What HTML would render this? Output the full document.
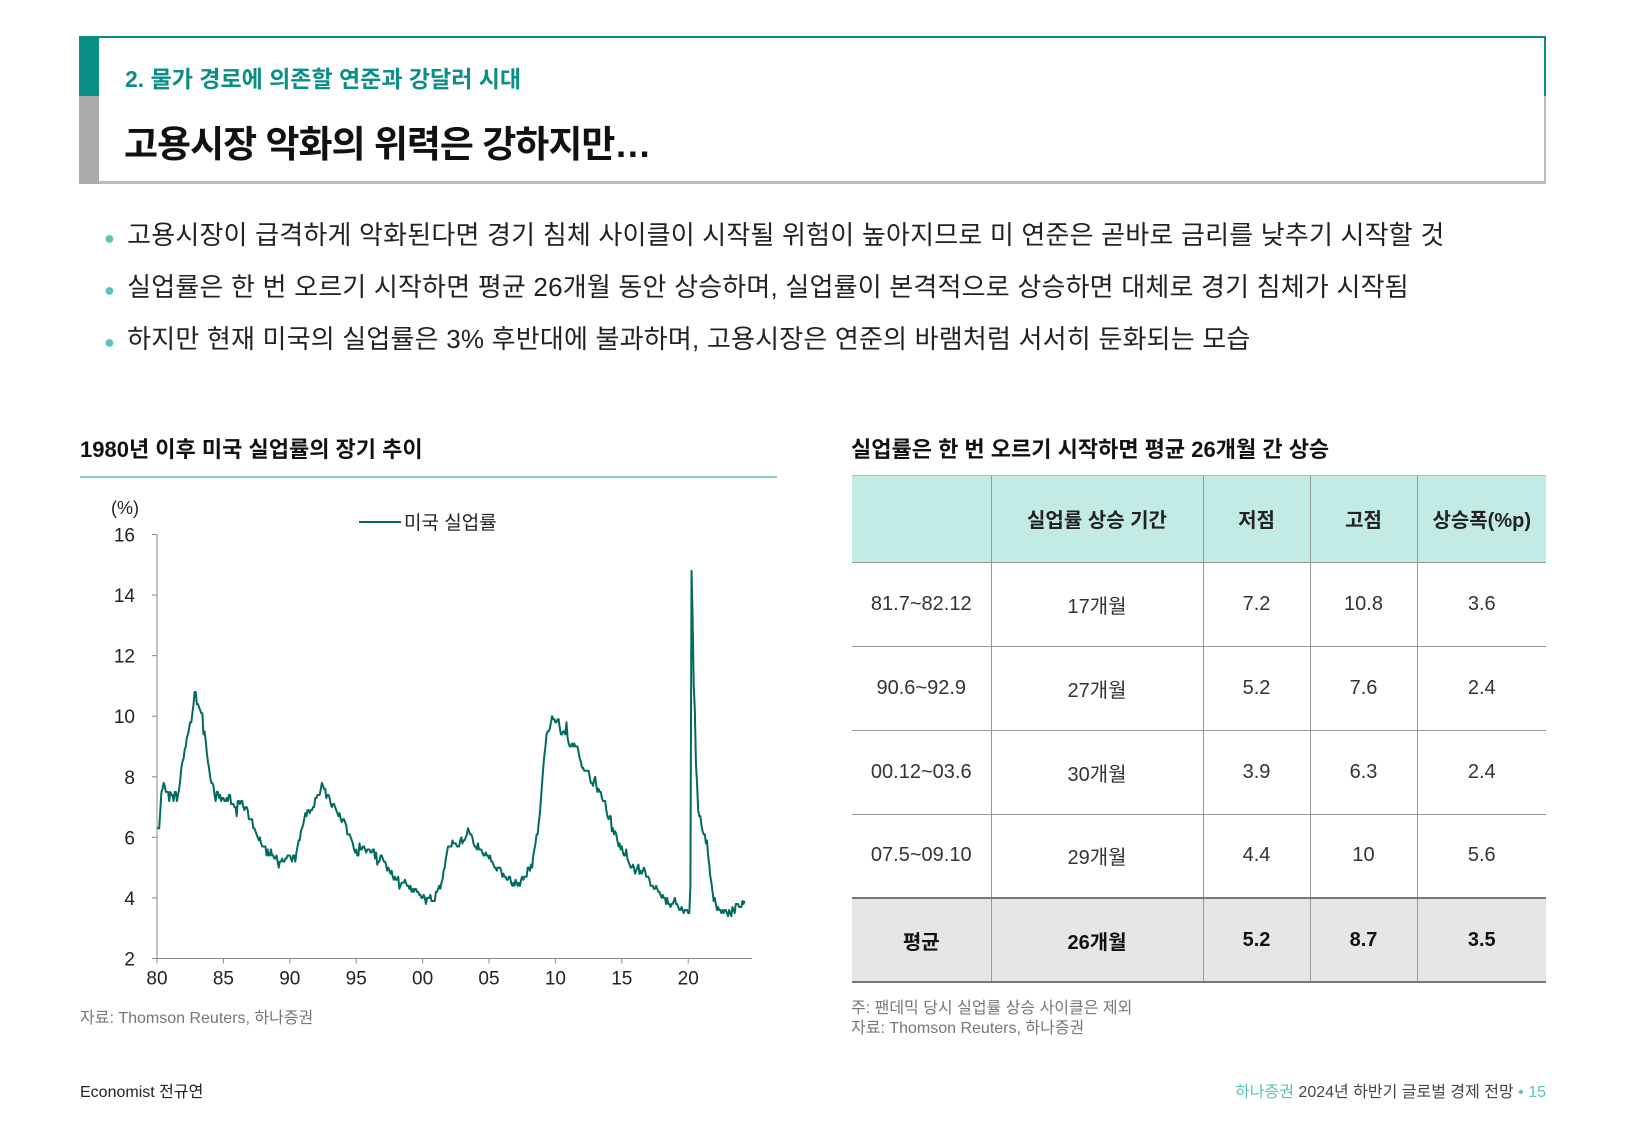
<!DOCTYPE html>
<html><head><meta charset="utf-8">
<style>
*{margin:0;padding:0;box-sizing:border-box}
body{width:1625px;height:1125px;background:#fff;position:relative;overflow:hidden;font-family:"Liberation Sans","Noto Sans CJK KR",sans-serif;color:#111}
.abs{position:absolute;white-space:nowrap}
table{border-collapse:collapse;position:absolute;left:852px;top:476px;width:694px;font-size:20px;color:#333}
td{text-align:center;border-left:1px solid #999;border-bottom:1px solid #999;height:84px}
td:first-child{border-left:none}
tr.hd td{background:#c3ebe5;font-weight:bold;color:#222;height:86px}
tr.avg td{background:#e6e6e6;font-weight:bold;color:#111;border-top:2px solid #777;border-bottom:2px solid #777}
.b{left:104px;font-size:26px;color:#222;letter-spacing:0.2px}
.b span{color:#5cc4b7;font-size:18px;margin-right:12px}
</style></head><body>
<div class="abs" style="left:79px;top:36px;width:1467px;height:148px;border-top:2px solid #0a8f87;border-right:2px solid #bbb;border-bottom:3px solid #bbb"></div>
<div class="abs" style="left:79px;top:36px;width:20px;height:60px;background:#0a8f87"></div>
<div class="abs" style="left:79px;top:96px;width:20px;height:88px;background:#aaa"></div>
<div class="abs" style="left:1544px;top:36px;width:2px;height:60px;background:#0a8f87"></div>
<div class="abs" style="left:125px;top:60px;font-size:23px;color:#0a8f87;font-weight:bold">2. 물가 경로에 의존할 연준과 강달러 시대</div>
<div class="abs" style="left:124px;top:114px;font-size:37px;font-weight:bold;letter-spacing:-1px">고용시장 악화의 위력은 강하지만…</div>

<div class="abs b" style="top:215px"><span>●</span>고용시장이 급격하게 악화된다면 경기 침체 사이클이 시작될 위험이 높아지므로 미 연준은 곧바로 금리를 낮추기 시작할 것</div>
<div class="abs b" style="top:267px"><span>●</span>실업률은 한 번 오르기 시작하면 평균 26개월 동안 상승하며, 실업률이 본격적으로 상승하면 대체로 경기 침체가 시작됨</div>
<div class="abs b" style="top:319px"><span>●</span>하지만 현재 미국의 실업률은 3% 후반대에 불과하며, 고용시장은 연준의 바램처럼 서서히 둔화되는 모습</div>

<div class="abs" style="left:80px;top:432px;font-size:22px;font-weight:bold">1980년 이후 미국 실업률의 장기 추이</div>
<div class="abs" style="left:80px;top:476px;width:697px;height:2px;background:#8ccfc6"></div>
<div class="abs" style="left:851px;top:432px;font-size:22px;font-weight:bold">실업률은 한 번 오르기 시작하면 평균 26개월 간 상승</div>
<div class="abs" style="left:852px;top:475px;width:694px;height:2px;background:#8ccfc6"></div>

<svg id="chart" class="abs" style="left:0;top:490px" width="800" height="520"></svg>
<div class="abs" style="left:80px;top:1004px;font-size:16px;color:#777">자료: Thomson Reuters, 하나증권</div>

<table>
<tr class="hd"><td style="width:139px"></td><td style="width:212px">실업률 상승 기간</td><td style="width:107px">저점</td><td style="width:107px">고점</td><td>상승폭(%p)</td></tr>
<tr><td>81.7~82.12</td><td>17개월</td><td>7.2</td><td>10.8</td><td>3.6</td></tr>
<tr><td>90.6~92.9</td><td>27개월</td><td>5.2</td><td>7.6</td><td>2.4</td></tr>
<tr><td>00.12~03.6</td><td>30개월</td><td>3.9</td><td>6.3</td><td>2.4</td></tr>
<tr><td>07.5~09.10</td><td>29개월</td><td>4.4</td><td>10</td><td>5.6</td></tr>
<tr class="avg"><td>평균</td><td>26개월</td><td>5.2</td><td>8.7</td><td>3.5</td></tr>
</table>
<div class="abs" style="left:851px;top:999px;font-size:16px;color:#777;line-height:20px">주: 팬데믹 당시 실업률 상승 사이클은 제외<br>자료: Thomson Reuters, 하나증권</div>

<div class="abs" style="left:80px;top:1078px;font-size:16px;color:#222">Economist 전규연</div>
<div class="abs" style="right:79px;top:1078px;font-size:16px;color:#444"><span style="color:#5cc4b7">하나증권</span> 2024년 하반기 글로벌 경제 전망 <span style="color:#5cc4b7">• 15</span></div>

<script>
const startYear = 1980;
const yTicks = [2,4,6,8,10,12,14,16];
const xTickLabels = ["80","85","90","95","00","05","10","15","20"];
const unrate = [
6.3,6.3,6.3,6.9,7.5,7.6,7.8,7.7,7.5,7.5,7.5,7.2,
7.5,7.4,7.4,7.2,7.5,7.5,7.2,7.4,7.6,7.9,8.3,8.5,
8.6,8.9,9.0,9.3,9.4,9.6,9.8,9.8,10.1,10.4,10.8,10.8,
10.4,10.4,10.3,10.2,10.1,10.1,9.4,9.5,9.2,8.8,8.5,8.3,
8.0,7.8,7.8,7.7,7.4,7.2,7.5,7.5,7.3,7.4,7.2,7.3,
7.3,7.2,7.2,7.3,7.2,7.4,7.4,7.1,7.1,7.1,7.0,7.0,
6.7,7.2,7.2,7.1,7.2,7.2,7.0,6.9,7.0,7.0,6.9,6.6,
6.6,6.6,6.6,6.3,6.3,6.2,6.1,6.0,5.9,6.0,5.8,5.7,
5.7,5.7,5.7,5.4,5.6,5.4,5.4,5.6,5.4,5.4,5.3,5.3,
5.4,5.2,5.0,5.2,5.2,5.3,5.2,5.2,5.3,5.3,5.4,5.4,
5.4,5.3,5.2,5.4,5.4,5.2,5.5,5.7,5.9,5.9,6.2,6.3,
6.4,6.6,6.8,6.7,6.9,6.9,6.8,6.9,6.9,7.0,7.0,7.3,
7.3,7.4,7.4,7.4,7.6,7.8,7.7,7.6,7.6,7.3,7.4,7.4,
7.3,7.1,7.0,7.1,7.1,7.0,6.9,6.8,6.7,6.8,6.6,6.5,
6.6,6.6,6.5,6.4,6.1,6.1,6.1,6.0,5.9,5.8,5.6,5.5,
5.6,5.4,5.4,5.8,5.6,5.6,5.7,5.7,5.6,5.5,5.6,5.6,
5.6,5.5,5.5,5.6,5.6,5.3,5.5,5.1,5.2,5.2,5.4,5.4,
5.3,5.2,5.2,5.1,4.9,5.0,4.9,4.8,4.9,4.7,4.6,4.7,
4.6,4.6,4.7,4.3,4.4,4.5,4.5,4.5,4.6,4.5,4.4,4.4,
4.3,4.4,4.2,4.3,4.2,4.3,4.3,4.2,4.2,4.1,4.1,4.0,
4.0,4.1,4.0,3.8,4.0,4.0,4.0,4.1,3.9,3.9,3.9,3.9,
4.2,4.2,4.3,4.4,4.3,4.5,4.6,4.9,5.0,5.3,5.5,5.7,
5.7,5.7,5.7,5.9,5.8,5.8,5.8,5.7,5.7,5.7,5.9,6.0,
5.8,5.9,5.9,6.0,6.1,6.3,6.2,6.1,6.1,6.0,5.8,5.7,
5.7,5.6,5.8,5.6,5.6,5.6,5.5,5.4,5.4,5.5,5.4,5.4,
5.3,5.4,5.2,5.2,5.1,5.0,5.0,4.9,5.0,5.0,5.0,4.9,
4.7,4.8,4.7,4.7,4.6,4.6,4.7,4.7,4.5,4.4,4.5,4.4,
4.6,4.5,4.4,4.5,4.4,4.6,4.7,4.6,4.7,4.7,4.7,5.0,
5.0,4.9,5.1,5.0,5.4,5.6,5.8,6.1,6.1,6.5,6.8,7.3,
7.8,8.3,8.7,9.0,9.4,9.5,9.5,9.6,9.8,10.0,9.9,9.9,
9.8,9.8,9.9,9.9,9.6,9.4,9.4,9.5,9.5,9.4,9.8,9.3,
9.1,9.0,9.0,9.1,9.0,9.1,9.0,9.0,9.0,8.8,8.6,8.5,
8.3,8.3,8.2,8.2,8.2,8.2,8.2,8.0,7.8,7.8,7.7,7.9,
8.0,7.7,7.5,7.6,7.5,7.5,7.3,7.2,7.2,7.2,6.9,6.7,
6.6,6.7,6.7,6.2,6.3,6.1,6.2,6.1,5.9,5.7,5.8,5.6,
5.7,5.5,5.4,5.4,5.6,5.3,5.2,5.1,5.0,5.0,5.1,5.0,
4.8,4.9,5.0,5.1,4.8,4.9,4.8,4.9,5.0,4.9,4.7,4.7,
4.7,4.6,4.4,4.4,4.4,4.3,4.3,4.4,4.3,4.2,4.2,4.1,
4.0,4.1,4.0,4.0,3.8,4.0,3.8,3.8,3.7,3.8,3.8,3.9,
4.0,3.8,3.8,3.7,3.6,3.6,3.7,3.6,3.5,3.6,3.6,3.6,
3.5,3.5,4.4,14.8,13.2,11.0,10.2,8.4,7.8,6.9,6.7,6.7,
6.4,6.2,6.1,6.1,5.8,5.9,5.4,5.1,4.7,4.5,4.2,3.9,
4.0,3.8,3.6,3.7,3.6,3.6,3.5,3.6,3.5,3.6,3.6,3.5,
3.4,3.6,3.5,3.4,3.7,3.6,3.5,3.8,3.8,3.8,3.7,3.7,
3.7,3.9,3.8,3.9
];
const svg=document.getElementById('chart');
const NS='http://www.w3.org/2000/svg';
const oy=490;
const X0=157, Xper5=66.4, Y2=958.5-oy, Y16=534.5-oy;
function xs(t){return X0+(t-startYear)/5*Xper5;}
function ys(v){return Y2+(v-2)/14*(Y16-Y2);}
function mk(tag,attrs){const e=document.createElementNS(NS,tag);for(const k in attrs)e.setAttribute(k,attrs[k]);svg.appendChild(e);return e;}
let e=mk('line',{x1:X0,x2:X0,y1:Y16,y2:Y2,stroke:'#888','stroke-width':1});


e=mk('line',{x1:X0,x2:752,y1:Y2,y2:Y2,stroke:'#888','stroke-width':1});


yTicks.forEach(v=>{
  const y=ys(v);
  let t=mk('line',{x1:X0-5,x2:X0,y1:y,y2:y,stroke:'#888'});
  
  
  let l=mk('text',{x:X0-22,y:y+7,'text-anchor':'end','font-size':19,fill:'#222','font-family':'Liberation Sans, sans-serif'});
  l.textContent=v;
  
  
});
xTickLabels.forEach((s,i)=>{
  const x=xs(startYear+i*5);
  let t=mk('line',{x1:x,x2:x,y1:Y2,y2:Y2+5,stroke:'#888'});
  
  
  let l=mk('text',{x:x,y:Y2+26,'text-anchor':'middle','font-size':19,fill:'#222','font-family':'Liberation Sans, sans-serif'});
  l.textContent=s;
  
  
});
let u=mk('text',{x:111,y:24,'font-size':18,fill:'#222','font-family':'Liberation Sans, sans-serif'});
u.textContent='(%)';


const pts=unrate.map((v,i)=>xs(startYear+i/12).toFixed(2)+','+ys(v).toFixed(2)).join(' ');
let p=mk('polyline',{points:pts,fill:'none',stroke:'#006b5e','stroke-width':2,'stroke-linejoin':'round'});


let ll=mk('line',{x1:359,x2:401,y1:32,y2:32,stroke:'#006b5e','stroke-width':2});


let lt=mk('text',{x:404,y:39,'font-size':19,fill:'#222','font-family':'Liberation Sans, Noto Sans CJK KR, sans-serif'});
lt.textContent='미국 실업률';


</script>
</body></html>
